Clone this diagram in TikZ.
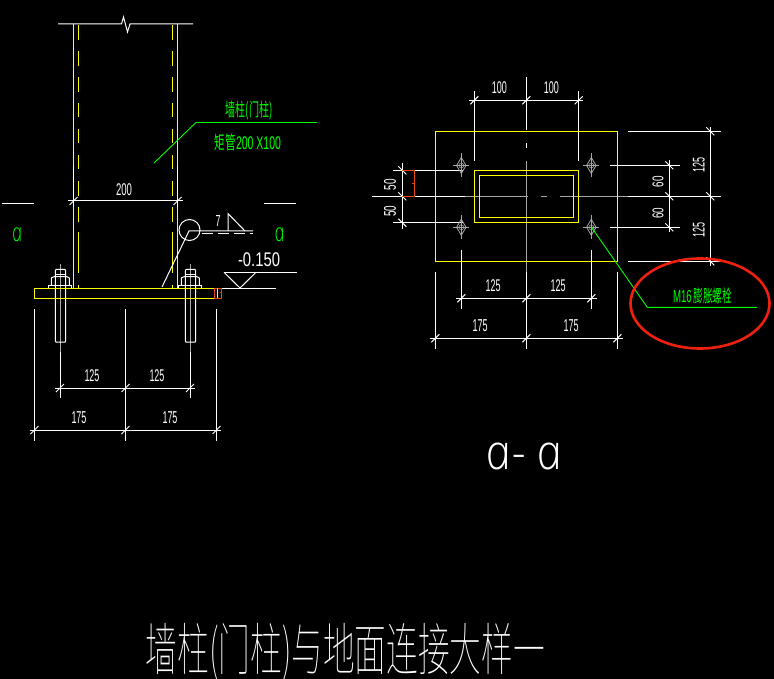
\documentclass[tikz,border=0pt]{standalone}
\usepackage{fontspec}
\usepackage{graphicx}
\newfontfamily\cjkthin{Noto Sans CJK SC Thin}
\newfontfamily\cjkreg{Noto Sans CJK SC}
\newfontfamily\digi{Liberation Sans}
\newfontfamily\lettera{Open Sans}[UprightFont=* Light Italic,FakeSlant=-0.2]
\newcommand{\fit}[3]{\resizebox*{#1pt}{#2pt}{#3}}
\definecolor{cadgreen}{HTML}{00FF00}
\definecolor{cadyellow}{HTML}{FFFF00}
\definecolor{cadgray}{HTML}{A8A8A8}
\definecolor{cadorange}{HTML}{E8480F}
\definecolor{cadred}{HTML}{EE2010}
\tikzset{
  x=1pt,y=-1pt,
  wl/.style={draw=white,line width=1pt},
  yl/.style={draw=cadyellow,line width=1pt},
  gl/.style={draw=cadgray,line width=0.8pt},
  ol/.style={draw=cadorange,line width=1pt},
  gr/.style={draw=cadgreen,line width=0.9pt},
  dimtxt/.style={text=white,inner sep=0pt,font=\digi},
  grtxt/.style={text=cadgreen,inner sep=0pt},
}
\begin{document}
\begin{tikzpicture}
\fill[black] (0,0) rectangle (774,679);
\useasboundingbox (0,0) rectangle (774,679);
% ---------- elevation: column
\draw[wl] (58,24) -- (121.5,24) -- (123.5,17) -- (127.5,32) -- (130,24) -- (193,24);
\foreach \cx in {73.5,177.5}{
  \draw[yl] (\cx,24.5) -- (\cx,166);
  \draw[wl] (\cx,166) -- (\cx,207);
  \draw[yl] (\cx,207) -- (\cx,288);
}
\foreach \cx in {78.5,172.5}{
  \foreach \ya/\yb in {25/40,51/66,77/92,103/117,129/143,155/169,181/196,207/222,232/273,285/288}{
    \draw[yl] (\cx,\ya) -- (\cx,\yb);
  }
}
% dim 200
\draw[wl] (68,201) -- (183,201);
\foreach \cx in {73.5,177.5}{\draw[wl] (\cx-4,205) -- (\cx+4,197);}
\node[dimtxt] (d200) at (124,189.5) {\fit{16}{12}{200}};
% section marks
\draw[wl] (2,204) -- (34,204);
\draw[wl] (264,204) -- (296,204);
\node[grtxt] (secL) at (18,235) {\fit{10}{14}{\lettera a}};
\node[grtxt] (secR) at (280.5,235) {\fit{10}{14}{\lettera a}};
% green label
\draw[gr] (154,163) -- (196,122.5) -- (317,122.5);
\node[grtxt] (lblA) at (249,110.5) {\fit{47}{19}{\cjkreg 墙柱(门柱)}};
\node[grtxt] (lblB) at (248,142) {\fit{66}{17}{\cjkreg 矩管\digi 200 X100}};
% weld
\draw[wl] (189.5,230) circle[radius=10.5];
\draw[wl] (162,287) -- (189,231) -- (253,231);
\draw[wl,dash pattern=on 11pt off 5pt] (202,233.5) -- (253,233.5);
\draw[wl] (228,231) -- (228,213.5) -- (245,231);
\node[dimtxt] (w7) at (218,221) {\fit{5}{11}{7}};
% level
\draw[wl] (224,272.3) -- (297,272.3);
\draw[wl] (224,272.3) -- (240,288) -- (256,272.3);
\draw[wl] (203,288) -- (276,288);
\node[dimtxt] (lvl) at (259,260) {\fit{42}{14}{-0.150}};
% bolts (elevation)
\foreach \bx in {60,190}{
  \draw[gl] (\bx,264) -- (\bx,352);
  \draw[wl] (\bx,352) -- (\bx,398);
  \draw[wl] (\bx-4.7,271) -- (\bx-4.7,341) -- (\bx-4,342) -- (\bx+5,342) -- (\bx+5.7,341) -- (\bx+5.7,271) -- (\bx+5,269.5) -- (\bx-4,269.5) -- cycle;
  \draw[wl] (\bx-5,275) -- (\bx+6,275);
  \draw[wl] (\bx-8.7,285.3) -- (\bx-8.7,278) -- (\bx-6,276.7) -- (\bx+7,276.7) -- (\bx+9.3,278) -- (\bx+9.3,285.3);
  \draw[wl] (\bx-11.7,288) -- (\bx-11.7,285.3) -- (\bx+11.7,285.3) -- (\bx+11.7,288);
}
% base plate
\draw[yl] (214,288) -- (34.5,288) -- (34.5,298) -- (214,298);
\draw[ol] (214,288) rectangle (221.7,298);
\draw[yl] (217,288) -- (217,298);
\draw[ol] (220,292) -- (222,292);
% elevation dims
\foreach \ex in {34.5,125.5,216.5}{\draw[wl] (\ex,309) -- (\ex,441);}
\draw[wl] (55,388) -- (195,388);
\draw[wl] (29.5,430) -- (221,430);
\foreach \ex in {60,125.5,190}{\draw[wl] (\ex-4,392) -- (\ex+4,384);}
\foreach \ex in {34.5,125.5,216.5}{\draw[wl] (\ex-4,434) -- (\ex+4,426);}
\node[dimtxt] (e1) at (92,376) {\fit{15}{12}{125}};
\node[dimtxt] (e2) at (157,376) {\fit{15}{12}{125}};
\node[dimtxt] (e3) at (79,417.5) {\fit{15}{12}{175}};
\node[dimtxt] (e4) at (170,417.5) {\fit{15}{12}{175}};
% ---------- plan
% centre lines
\draw[wl] (526.3,77) -- (526.3,130);
\draw[wl] (526.3,143) -- (526.3,148);
\draw[gl] (526.3,161) -- (526.3,272);
\draw[wl] (526.3,272) -- (526.3,349);
\draw[wl] (372,196.3) -- (465,196.3);
\draw[gl] (465,196.3) -- (528,196.3);
\draw[gl] (541,196.3) -- (547,196.3);
\draw[gl] (560,196.3) -- (628,196.3);
\draw[wl] (628,196.3) -- (720.7,196.3);
% extension lines
\foreach \ex in {474.3,578.7}{\draw[wl] (\ex,91) -- (\ex,161);}
\foreach \ey in {170.3,222.7}{\draw[wl] (393,\ey) -- (463,\ey);}
\foreach \ex in {461.3,591.3}{\draw[wl] (\ex,250) -- (\ex,309);}
\foreach \ex in {435.3,617.3}{\draw[wl] (\ex,272) -- (\ex,349);}
\foreach \ey in {131.3,261.3}{\draw[wl] (628,\ey) -- (720.7,\ey);}
\foreach \ey in {165.3,227.3}{\draw[wl] (610,\ey) -- (680,\ey);}
% plate and tube
\draw[yl] (435.3,131.3) rectangle (617.3,261.3);
\draw[yl] (474.3,170.3) rectangle (578.7,222.7);
\draw[yl] (479.3,175.3) rectangle (573.7,217.7);
% holes
\foreach \hx/\hy in {461.3/165.5,591.3/165.5,461.3/227.3,591.3/227.3}{
  \draw[gl] (\hx,\hy-12) -- (\hx,\hy+12);
  \draw[gl] (\hx-8,\hy) -- (\hx+8,\hy);
  \draw[gl] (\hx,\hy-8) -- (\hx+4.7,\hy) -- (\hx,\hy+8) -- (\hx-4.7,\hy) -- cycle;
  \draw[gl,line width=0.5pt] (\hx,\hy) circle[radius=2.5];
}
% plan dims
\draw[wl] (469,100.3) -- (583,100.3);
\foreach \ex in {474.3,526.3,578.7}{\draw[wl] (\ex-4,104.3) -- (\ex+4,96.3);}
\draw[wl] (456,298.3) -- (597,298.3);
\foreach \ex in {461.3,526.3,591.3}{\draw[wl] (\ex-4,302.3) -- (\ex+4,294.3);}
\draw[wl] (430,338.3) -- (623,338.3);
\foreach \ex in {435.3,526.3,617.3}{\draw[wl] (\ex-4,342.3) -- (\ex+4,334.3);}
\draw[wl] (402.3,163) -- (402.3,229.3);
\foreach \ey in {170.3,196.3,222.7}{\draw[wl] (398.3,\ey-4) -- (406.3,\ey+4);}
\draw[wl] (669.3,160.5) -- (669.3,232.5);
\foreach \ey in {165.3,196.3,227.3}{\draw[wl] (665.3,\ey-4) -- (673.3,\ey+4);}
\draw[wl] (710.3,127) -- (710.3,266);
\foreach \ey in {131.3,196.3,261.3}{\draw[wl] (706.3,\ey-4) -- (714.3,\ey+4);}
\draw[ol] (402.3,170.3) -- (414.3,170.3) -- (414.3,196.3) -- (402.3,196.3);
\draw[ol] (412,184) -- (414,184);
\node[dimtxt] (p1) at (499.3,87.7) {\fit{15}{12}{100}};
\node[dimtxt] (p2) at (551.3,87.7) {\fit{15}{12}{100}};
\node[dimtxt] (p3) at (493,286) {\fit{15}{12}{125}};
\node[dimtxt] (p4) at (558,286) {\fit{15}{12}{125}};
\node[dimtxt] (p5) at (480,326) {\fit{15}{12}{175}};
\node[dimtxt] (p6) at (571,326) {\fit{15}{12}{175}};
\node[dimtxt,rotate=90] (p7) at (390,184.7) {\fit{11}{12}{50}};
\node[dimtxt,rotate=90] (p8) at (390,211) {\fit{11}{12}{50}};
\node[dimtxt,rotate=90] (p9) at (658,181.7) {\fit{11}{11}{60}};
\node[dimtxt,rotate=90] (p10) at (658,213.3) {\fit{11}{11}{60}};
\node[dimtxt,rotate=90] (p11) at (698.7,165) {\fit{15}{12}{125}};
\node[dimtxt,rotate=90] (p12) at (698.7,230) {\fit{15}{12}{125}};
% M16 leader and ring
\draw[gr] (592,228) -- (647.3,307.3) -- (757,307.3);
\node[grtxt] (m16) at (702.5,295.5) {\fit{59}{16}{\digi M16\,\cjkreg 膨胀螺栓}};
\draw[cadred,line width=2.6pt] (700,303.5) ellipse[x radius=69.5,y radius=45];
% titles
\node[text=white,inner sep=0pt] (secT) at (527,456.5) {\fit{76}{27}{\lettera a- a}};
\node[text=white,inner sep=0pt] (title) at (345.5,652) {\fit{399}{58}{\cjkthin 墙柱(门柱)与地面连接大样一}};
\end{tikzpicture}
\end{document}
